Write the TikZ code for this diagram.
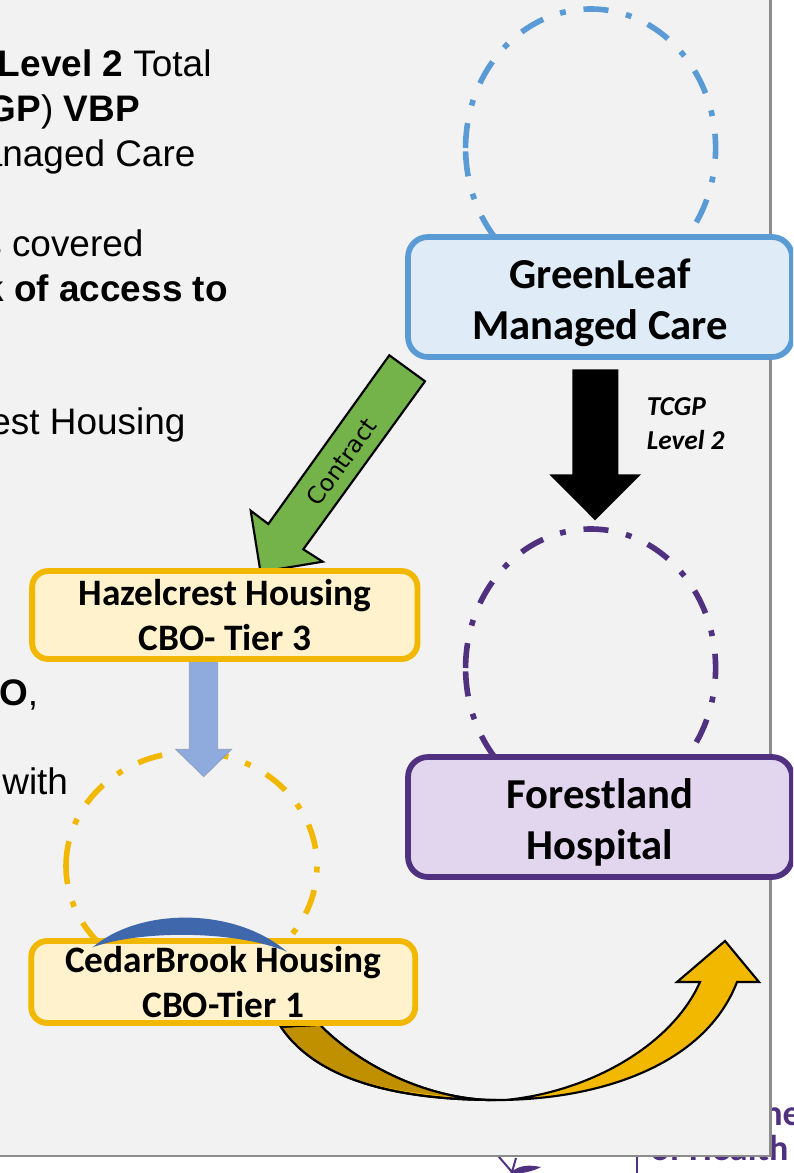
\documentclass[tikz,border=0pt]{standalone}
\usepackage{fontspec}
\setmainfont{Liberation Sans}
\newfontfamily\calibri{Carlito}
\newfontfamily\dejavu{DejaVu Sans}
\definecolor{panelgray}{HTML}{F2F2F2}
\definecolor{edgegray}{HTML}{8C8C8C}
\definecolor{leafblue}{HTML}{5B9BD5}
\definecolor{leaffill}{HTML}{DFEBF6}
\definecolor{forestpurple}{HTML}{4F3180}
\definecolor{forestfill}{HTML}{E1D6EE}
\definecolor{tiergold}{HTML}{F2B800}
\definecolor{tierfill}{HTML}{FFF2CC}
\definecolor{darkgold}{HTML}{C09000}
\definecolor{contractgreen}{HTML}{74B24A}
\definecolor{downblue}{HTML}{8FAADC}
\definecolor{lensblue}{HTML}{3F68AC}
\tikzset{
  bodytext/.style={anchor=base east, inner sep=0pt, font=\fontsize{27.7}{30}\selectfont},
  bigbox/.style={draw, rounded corners=15pt, line width=4.3pt, minimum width=288pt, minimum height=90pt, align=center, font=\calibri\bfseries\fontsize{32}{38.25}\selectfont},
  tierbox/.style={draw=tiergold, fill=tierfill, rounded corners=12pt, line width=4.4pt, minimum width=289pt, align=center, font=\calibri\bfseries\fontsize{28}{33.4}\selectfont},
  ring/.style={line width=4.2pt, dash pattern=on 18.75pt off 13.5pt on 4.4pt off 13.45pt},
  blockline/.style={draw=black, line width=1.6pt, line join=miter}
}
\begin{document}
\begin{tikzpicture}[x=0.75pt,y=-0.75pt]
  \useasboundingbox (0,0) rectangle (793,1173);
  \clip (0,0) rectangle (793,1173);
  \fill[white] (0,0) rectangle (793,1173);

  % behind the panel
  \begin{scope}[forestpurple, every node/.style={anchor=base west, inner sep=0pt, text=forestpurple, font=\calibri\bfseries\fontsize{27}{30}\selectfont}]
    \node (dept) at (763,1125) {ne};
    \node (health) at (650,1160.7) {of Health};
    \draw[line width=1.5pt] (636.7,1150) -- (636.7,1173);
    \draw[line width=1.5pt] (493,1150) -- (512,1172) -- (516,1158);
    \fill (510,1173) .. controls (520,1164) and (530,1165) .. (541,1167) .. controls (532,1172) and (522,1173) .. (510,1175) -- cycle;
  \end{scope}

  \fill[panelgray, draw=edgegray, line width=2.2pt] (-5,-5) rectangle (770.5,1156);

  \node[bodytext] (line1) at (211.7,77) {\textbf{Level 2} Total};
  \node[bodytext] (line2) at (140,122) {\textbf{GP}) \textbf{VBP}};
  \node[bodytext] (line3) at (195.7,166.7) {anaged Care};
  \node[bodytext] (line4) at (143.7,256.7) {s covered};
  \node[bodytext] (line5) at (228,301.7) {\textbf{k of access to}};
  \node[bodytext] (line6) at (185.7,434.8) {est Housing};
  \node[bodytext] (line7) at (38.3,705) {\textbf{O},};
  \node[bodytext] (line8) at (68.3,794) {with};

  % dashed loops
  \draw[ring, leafblue] (465.6,148) arc[start angle=180, delta angle=360, x radius=125, y radius=139];
  \draw[ring, forestpurple] (465.6,668) arc[start angle=180, delta angle=360, x radius=125, y radius=139];
  \draw[ring, tiergold] (66,866) arc[start angle=180, delta angle=360, x radius=125.5, y radius=114];

  % block arrows
  \draw[blockline, fill=contractgreen] (389.3,355.3) -- (425,381.3) -- (303.3,549.3) -- (322.7,561.7) -- (260.5,572) -- (250.7,510.7) -- (268.3,524) -- cycle;
  \node[rotate=54, text=black, inner sep=0pt, font=\dejavu\fontsize{17.6}{20}\selectfont] (contract) at (341.7,461.7) {Contract};
  \fill[black] (572.3,369.3) -- (618.3,369.3) -- (618.3,474.3) -- (641,474.3) -- (595,520.3) -- (549.3,474.3) -- (572.3,474.3) -- cycle;
  \node[anchor=base west, inner sep=0pt, align=left, font=\calibri\bfseries\itshape\fontsize{20.5}{25.5}\selectfont] (tcgp) at (646.5,449) {TCGP\\Level 2};

  \draw[blockline, fill=tiergold] (281,1027) .. controls (320,1085) and (410,1100) .. (496,1100) .. controls (600,1100) and (705,1065) .. (737,982) -- (759,982) -- (725,941) -- (677,982) -- (700,982) .. controls (672,1045) and (590,1092) .. (505,1100) -- (490,1100) .. controls (425,1098) and (360,1065) .. (321,1026) -- cycle;
  \fill[darkgold] (282,1028) .. controls (320,1083) and (395,1092) .. (470,1098) .. controls (415,1090) and (360,1065) .. (320,1026) -- cycle;
  \draw[black, line width=1.6pt] (281,1027) .. controls (320,1085) and (410,1100) .. (496,1100);
  \draw[black, line width=1.6pt] (490,1100) .. controls (425,1098) and (360,1065) .. (321,1026);

  \fill[downblue, draw=downblue!70!gray, line width=0.5pt] (189.3,655) -- (217.7,655) -- (217.7,749.3) -- (231.7,749.3) -- (203.7,776.7) -- (175.7,749.3) -- (189.3,749.3) -- cycle;

  % boxes
  \node[bigbox, draw=leafblue, fill=leaffill] (leaf) at (600,297) {\rule{0pt}{31pt}GreenLeaf\\Managed Care};
  \node[bigbox, draw=forestpurple, fill=forestfill] (forest) at (600,817) {\rule{0pt}{31pt}Forestland\\Hospital};
  \node[tierbox, minimum height=66pt] (hazel) at (224.8,615) {Hazelcrest Housing\\CBO- Tier 3};
  \node[tierbox, minimum height=61.5pt, minimum width=288pt] (cedar) at (223.2,982) {};
  \fill[lensblue] (92.6,947.3) .. controls (140,907) and (235,907) .. (287,951.7) .. controls (235,930) and (140,930) .. cycle;
  \node[align=center, inner sep=0pt, font=\calibri\bfseries\fontsize{28}{33.4}\selectfont] (cedartext) at (cedar) {CedarBrook Housing\\CBO-Tier 1};
\end{tikzpicture}
\end{document}
